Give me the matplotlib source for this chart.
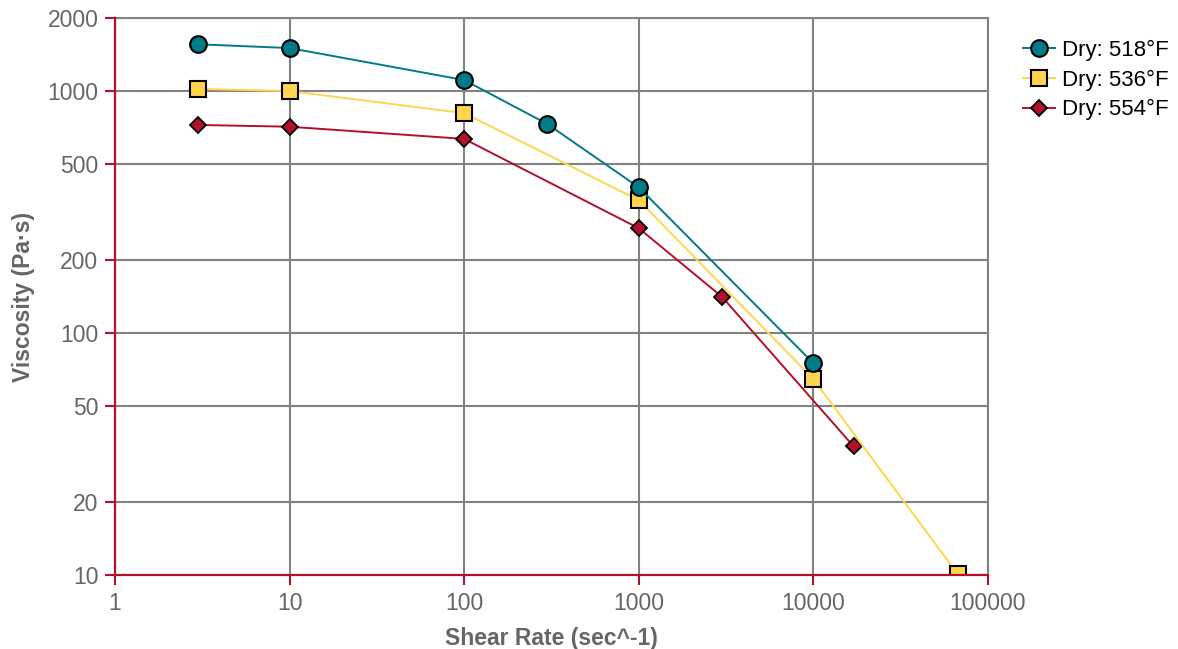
import matplotlib
matplotlib.use("Agg")
import matplotlib.pyplot as plt
from matplotlib.ticker import FixedLocator, NullLocator

plt.rcParams['font.family'] = ['Liberation Sans', 'DejaVu Sans']

# data
x_518 = [3, 10, 100, 300, 1000, 10000]
y_518 = [1560, 1505, 1110, 730, 400, 75]
x_536 = [3, 10, 100, 1000, 10000, 67000]
y_536 = [1020, 1000, 810, 354, 64.5, 10.1]
x_554 = [3, 10, 100, 1000, 3000, 17000]
y_554 = [724, 712, 634, 271, 141, 34]
labels = ["Dry: 518°F", "Dry: 536°F", "Dry: 554°F"]
y_ticks = [10, 20, 50, 100, 200, 500, 1000, 2000]
x_ticks = [1, 10, 100, 1000, 10000, 100000]

teal = "#007b87"
yellow = "#ffd54f"
red = "#b3102c"
grid_c = "#828282"
text_c = "#666666"

fig = plt.figure(figsize=(11.78, 6.49), dpi=100)
ax = fig.add_axes([0.0976, 0.114, 0.7411, 0.858])

ax.plot(x_518, y_518, color=teal, lw=1.4, marker="o", ms=12, mfc=teal,
        mec="black", mew=1.5, label=labels[0], zorder=5)
ax.plot(x_536, y_536, color=yellow, lw=1.4, marker="s", ms=11, mfc=yellow,
        mec="black", mew=1.5, label=labels[1], zorder=4)
ax.plot(x_554, y_554, color=red, lw=1.4, marker="D", ms=8, mfc=red,
        mec="black", mew=1.3, label=labels[2], zorder=3)

ax.set_xscale("log")
ax.set_yscale("log")
ax.set_xlim(1, 100000)
ax.set_ylim(10, 2000)
ax.xaxis.set_major_locator(FixedLocator(x_ticks))
ax.xaxis.set_minor_locator(NullLocator())
ax.yaxis.set_major_locator(FixedLocator(y_ticks))
ax.yaxis.set_minor_locator(NullLocator())
ax.set_xticklabels([str(v) for v in x_ticks])
ax.set_yticklabels([str(v) for v in y_ticks])

ax.grid(True, color=grid_c, lw=1.5)
ax.set_axisbelow(True)
for s in ["top", "right"]:
    ax.spines[s].set_color(grid_c)
    ax.spines[s].set_linewidth(1.5)
for s in ["left", "bottom"]:
    ax.spines[s].set_color(red)
    ax.spines[s].set_linewidth(1.6)
    ax.spines[s].set_zorder(6)

ax.tick_params(axis="both", colors=red, width=1.5, length=7, direction="out",
               labelcolor=text_c, labelsize=16.5)
ax.tick_params(axis="y", pad=5)
ax.tick_params(axis="x", pad=5)

ax.set_xlabel("Shear Rate (sec^-1)", fontsize=16.5, fontweight="bold",
              color=text_c, labelpad=9)
ax.set_ylabel("Viscosity (Pa·s)", fontsize=16.5, fontweight="bold",
              color=text_c, labelpad=9)

fig.legend(loc="upper left", bbox_to_anchor=(0.861, 0.952), frameon=False,
           fontsize=16, handlelength=1.45, handletextpad=0.3, labelspacing=0.38,
           borderaxespad=0)

fig.savefig("out.png", dpi=100)
